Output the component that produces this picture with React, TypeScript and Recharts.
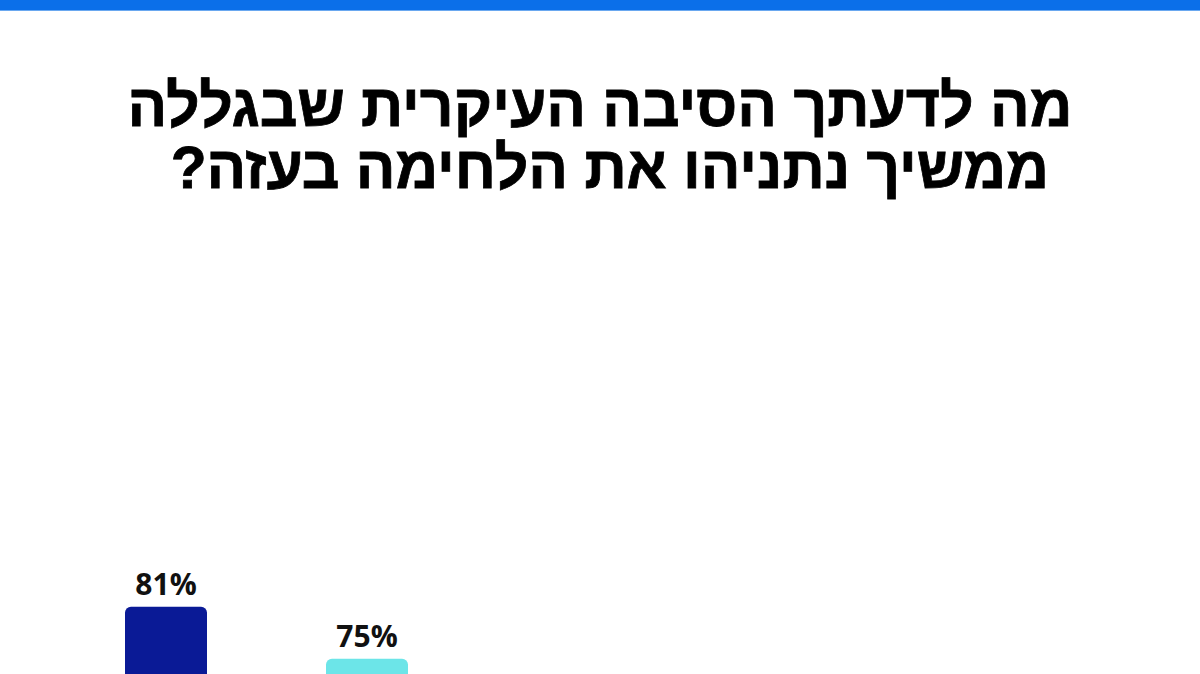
import { BarChart, Bar, XAxis, YAxis, Cell, LabelList } from 'recharts'

const titleLines = ['מה לדעתך הסיבה העיקרית שבגללה', 'ממשיך נתניהו את הלחימה בעזה?']

const categories = ['a', 'b']
const values = [81, 75]
const barColors = ['#0a1a96', '#6ce5e8']

const data = categories.map((name, i) => ({ name, value: values[i] }))

export default function App() {
  return (
    <div style={{
      position: 'absolute', left: 0, top: 0, width: 1200, height: 674,
      overflow: 'hidden', background: '#fff',
    }}>
      <div style={{ height: 10, background: '#0b6fe9', borderBottom: '1px solid #6aa8f0' }} />
      <div style={{
        position: 'absolute', top: 75, left: 0, width: 1200, textAlign: 'center',
        direction: 'rtl', fontFamily: '"Liberation Sans", Arial, sans-serif',
        fontWeight: 700, fontSize: 60, lineHeight: '62px', color: '#000',
        transform: 'scaleX(0.98)', WebkitTextStroke: '0.8px #000',
      }}>
        {titleLines.map((l, i) => (
          <div key={l} style={{ paddingLeft: i === 1 ? 20 : 0 }}>{l}</div>
        ))}
      </div>
      <div style={{ position: 'absolute', left: 0, top: 0 }}>
        <BarChart
          width={1200}
          height={1309}
          data={data}
          margin={{ top: 442, right: 733, bottom: 0, left: 65 }}
          barSize={82}
        >
          <XAxis dataKey="name" hide />
          <YAxis domain={[0, 100]} hide />
          <Bar dataKey="value" radius={[6, 6, 0, 0]} isAnimationActive={false}>
            {data.map((d, i) => <Cell key={d.name} fill={barColors[i]} />)}
            <LabelList
              dataKey="value"
              position="top"
              offset={12}
              formatter={(v: number) => `${v}%`}
              style={{ fontFamily: '"Open Sans", sans-serif', fontWeight: 700, fontSize: 30, fill: '#111' }}
            />
          </Bar>
        </BarChart>
      </div>
    </div>
  )
}
